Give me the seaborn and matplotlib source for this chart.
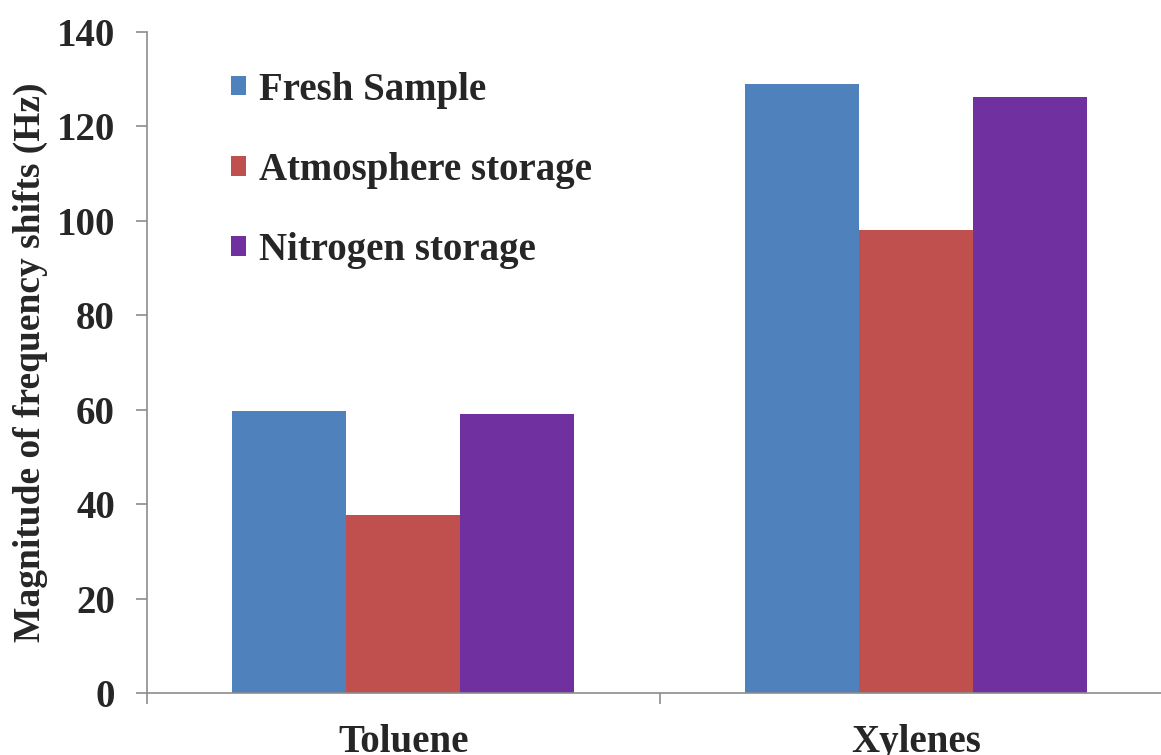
import numpy as np
import pandas as pd
import matplotlib
matplotlib.use("Agg")
import matplotlib.pyplot as plt
import seaborn as sns

# ── Data ──────────────────────────────────────────────────────────────────────
solvents   = ["Toluene", "Xylenes"]
conditions = ["Fresh Sample", "Atmosphere storage", "Nitrogen storage"]
fresh      = [59.8, 129.0]
atmosphere = [37.8, 98.0]
nitrogen   = [59.2, 126.3]
colors     = ["#4F81BD", "#C0504D", "#7030A0"]
y_ticks    = [0, 20, 40, 60, 80, 100, 120, 140]

df = pd.DataFrame({
    "solvent":   solvents * 3,
    "condition": np.repeat(conditions, len(solvents)),
    "shift":     fresh + atmosphere + nitrogen,
})

# ── Style ─────────────────────────────────────────────────────────────────────
sns.set_style("white")
plt.rcParams["font.family"] = ["Liberation Serif", "DejaVu Serif"]
plt.rcParams["font.weight"] = "bold"
axis_gray = "#8C8C8C"
FS = 28

fig = plt.figure(figsize=(11.61, 7.55), dpi=100)
ax = fig.add_axes([0.1266, 0.0821, 0.8829, 0.8755])

sns.barplot(data=df, x="solvent", y="shift", hue="condition",
            order=solvents, hue_order=conditions, palette=colors,
            width=0.668, gap=0, saturation=1, linewidth=0, ax=ax)

ax.set_xlim(-0.5, 1.5)
ax.set_ylim(0, 140)
ax.set_yticks(y_ticks)
ax.set_xlabel("")
ax.set_ylabel("Magnitude of frequency shifts (Hz)", fontsize=FS - 1,
              fontweight="bold")
ax.yaxis.set_label_coords(-0.097, 0.5)

for side in ["top", "right"]:
    ax.spines[side].set_visible(False)
for side in ["left", "bottom"]:
    ax.spines[side].set_color(axis_gray)
    ax.spines[side].set_linewidth(1.2)

ax.tick_params(axis="y", direction="out", length=8, width=1.2, color=axis_gray,
               labelsize=FS, pad=15, left=True)
ax.tick_params(axis="x", which="major", length=0, labelsize=FS, pad=22)
ax.set_xticks([-0.5, 0.5], minor=True)
ax.tick_params(axis="x", which="minor", direction="out", length=8, width=1.2,
               color=axis_gray, bottom=True)
for lbl in ax.get_xticklabels() + ax.get_yticklabels():
    lbl.set_fontweight("bold")

leg = ax.legend(loc="upper left", bbox_to_anchor=(0.082, 0.94), frameon=False,
                fontsize=FS, borderpad=0, borderaxespad=0,
                handlelength=0.39, handleheight=0.39, handletextpad=0.33,
                labelspacing=1.11)
for t in leg.get_texts():
    t.set_fontweight("bold")

plt.savefig("out.png", dpi=100)
